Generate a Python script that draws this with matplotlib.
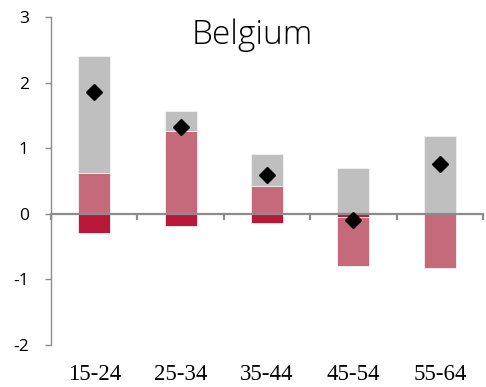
import numpy as np
import matplotlib.pyplot as plt

plt.rcParams["axes.unicode_minus"] = False

# age groups and contributions per component
ages = ["15-24", "25-34", "35-44", "45-54", "55-64"]
dark_part = [-0.30, -0.18, -0.14, -0.05, 0.0]
rose_part = [0.62, 1.27, 0.42, -0.74, -0.83]
grey_part = [1.79, 0.29, 0.49, 0.70, 1.19]
total = [1.85, 1.33, 0.59, -0.09, 0.76]

c_dark = "#BA1838"
c_rose = "#C46A7B"
c_grey = "#BFBFBF"
c_axis = "#8C8C8C"

fig = plt.figure(figsize=(4.86, 3.87), dpi=100)
ax = fig.add_axes([0.105, 0.1085, 0.889, 0.8475])

x = np.arange(len(ages))
w = 0.37

# stack positives and negatives separately, in series order
pos_base = np.zeros(len(ages))
neg_base = np.zeros(len(ages))
for vals, col in [(dark_part, c_dark), (rose_part, c_rose), (grey_part, c_grey)]:
    vals = np.array(vals)
    base = np.where(vals >= 0, pos_base, neg_base)
    ax.bar(x, vals, w, bottom=base, color=col, edgecolor="#F2F2F2",
           linewidth=0.6, zorder=2)
    pos_base = pos_base + np.clip(vals, 0, None)
    neg_base = neg_base + np.clip(vals, None, 0)

ax.plot(x, total, linestyle="none", marker="D", markersize=8.5,
        color="black", zorder=4)

ax.set_xlim(-0.5, len(ages) - 0.5)
ax.set_ylim(-2, 3)

for s in ["top", "right"]:
    ax.spines[s].set_visible(False)
ax.spines["bottom"].set_position(("data", 0))
ax.spines["bottom"].set_color(c_axis)
ax.spines["bottom"].set_linewidth(1.6)
ax.spines["bottom"].set_zorder(3)
ax.spines["left"].set_color(c_axis)
ax.spines["left"].set_linewidth(1.0)

ax.set_yticks(range(-2, 4))
ax.tick_params(axis="y", direction="out", length=4, width=1.0,
               color=c_axis, pad=12, labelsize=12.5)
for lab in ax.get_yticklabels():
    lab.set_fontfamily("Open Sans")

ax.set_xticks(np.arange(len(ages) + 1) - 0.5)
ax.set_xticklabels([])
ax.tick_params(axis="x", direction="out", length=4, width=1.6, color=c_axis)

for i, a in enumerate(ages):
    ax.text(i, -0.09, a, transform=ax.get_xaxis_transform(),
            ha="center", va="center", fontsize=16.5, family="Liberation Serif")

ax.text(0.465, 0.945, "Belgium", transform=ax.transAxes, ha="center",
        va="center", fontsize=24, family="Open Sans", fontweight="light")

fig.savefig("out.png", dpi=100)
